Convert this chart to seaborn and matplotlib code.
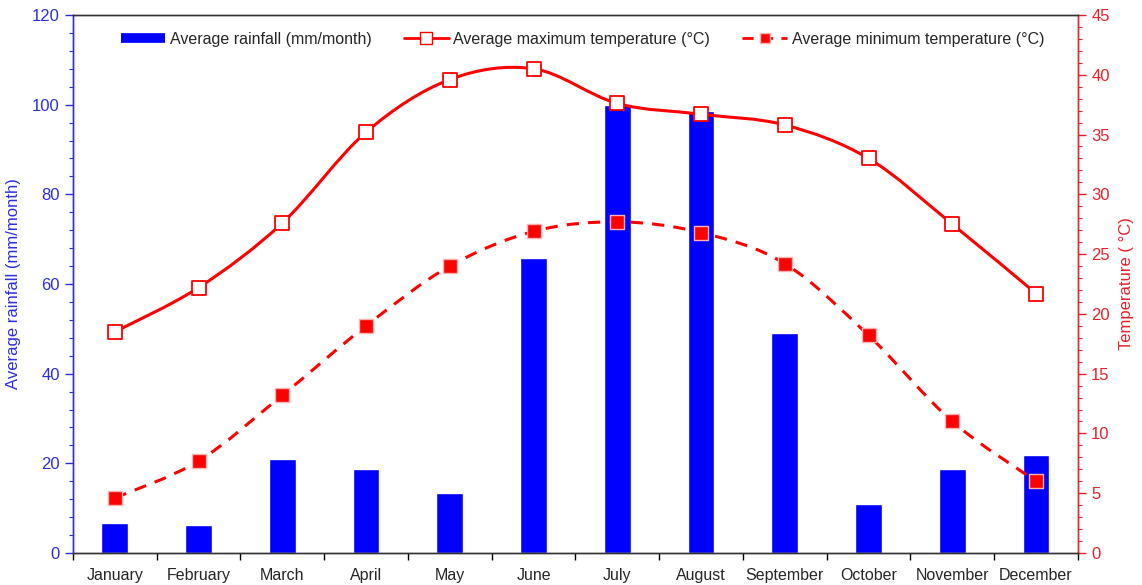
import numpy as np
import pandas as pd
import matplotlib
matplotlib.use("Agg")
import matplotlib.pyplot as plt
import seaborn as sns
from matplotlib.path import Path
from matplotlib.patches import PathPatch
from matplotlib.lines import Line2D
from matplotlib.ticker import MultipleLocator, FixedLocator

# ==========================================
# DATA
# ==========================================
months = ['January', 'February', 'March', 'April', 'May', 'June',
          'July', 'August', 'September', 'October', 'November', 'December']
rainfall = [6.7, 6.3, 21.0, 18.7, 13.4, 65.8, 100.0, 98.5, 49.0, 10.9, 18.7, 21.9]
temp_max = [18.5, 22.2, 27.6, 35.2, 39.6, 40.5, 37.6, 36.7, 35.8, 33.0, 27.5, 21.7]
temp_min = [4.6, 7.7, 13.2, 19.0, 24.0, 26.9, 27.7, 26.8, 24.2, 18.2, 11.0, 6.0]

BLUE = '#0000FF'
BLUE_TXT = '#2d2de0'
RED = '#FF0000'
RED_TXT = '#e8202a'


def smooth_path(xs, ys):
    # Catmull-Rom style cubic Bezier through the points (Excel-like smoothed line)
    pts = np.column_stack([xs, ys]).astype(float)
    n = len(pts)
    verts = [pts[0]]
    codes = [Path.MOVETO]
    for i in range(n - 1):
        p0 = pts[i - 1] if i > 0 else pts[i]
        p1 = pts[i]
        p2 = pts[i + 1]
        p3 = pts[i + 2] if i + 2 < n else pts[i + 1]
        c1 = p1 + (p2 - p0) / 6.0
        c2 = p2 - (p3 - p1) / 6.0
        verts += [c1, c2, p2]
        codes += [Path.CURVE4] * 3
    return Path(verts, codes)


sns.set_style("white")
plt.rcParams['font.family'] = ['Liberation Sans', 'DejaVu Sans']

df = pd.DataFrame({'Month': months, 'Rainfall': rainfall,
                   'Max': temp_max, 'Min': temp_min})
df['x'] = np.arange(len(months))

fig = plt.figure(figsize=(11.42, 5.85), dpi=100)
ax = fig.add_axes([0.0639, 0.0547, 0.8800, 0.9197])

# Bars: rainfall
sns.barplot(data=df, x='Month', y='Rainfall', color=BLUE, saturation=1,
            width=0.32, ax=ax, zorder=2)
ax.set_xlim(-0.5, 11.5)
ax.set_ylim(0, 120)
ax.set_xlabel('')
ax.set_ylabel('Average rainfall (mm/month)', color=BLUE_TXT, fontsize=12, labelpad=8)

# Temperature axis
ax2 = ax.twinx()
ax2.set_ylim(0, 45)
ax2.set_xlim(-0.5, 11.5)

ax2.add_patch(PathPatch(smooth_path(df['x'], df['Max']), facecolor='none',
                        edgecolor=RED, lw=2.2, zorder=3))
ax2.add_patch(PathPatch(smooth_path(df['x'], df['Min']), facecolor='none',
                        edgecolor=RED, lw=2.2, linestyle=(0, (4, 3)), zorder=3))
sns.scatterplot(x=df['x'], y=df['Max'], marker='s', s=110, color='white',
                edgecolor=RED, linewidth=1.3, ax=ax2, zorder=4)
sns.scatterplot(x=df['x'], y=df['Min'], marker='s', s=100, color=RED,
                edgecolor='#ffb0b0', linewidth=1.0, ax=ax2, zorder=4)
ax2.set_ylabel('Temperature ( °C)', color=RED_TXT, fontsize=12, labelpad=7)

# Ticks and spines
ax.xaxis.set_major_locator(FixedLocator(df['x']))
ax.set_xticklabels(months, fontsize=11.5)
ax.xaxis.set_minor_locator(FixedLocator(np.arange(-0.5, 12, 1.0)))
ax.tick_params(axis='x', which='major', length=0, pad=11)
ax.tick_params(axis='x', which='minor', length=5, width=1, color='black',
               direction='out', bottom=True)

ax.yaxis.set_major_locator(MultipleLocator(20))
ax.yaxis.set_minor_locator(MultipleLocator(4))
ax.tick_params(axis='y', which='both', direction='out', color=BLUE_TXT,
               labelcolor=BLUE_TXT, labelsize=12, left=True)
ax.tick_params(axis='y', which='major', length=6, width=1)
ax.tick_params(axis='y', which='minor', length=3, width=0.8)

ax2.yaxis.set_major_locator(MultipleLocator(5))
ax2.yaxis.set_minor_locator(MultipleLocator(1))
ax2.tick_params(axis='y', which='both', direction='out', color=RED_TXT,
                labelcolor=RED_TXT, labelsize=12, right=True)
ax2.tick_params(axis='y', which='major', length=6, width=1)
ax2.tick_params(axis='y', which='minor', length=3, width=0.8)

for a in (ax, ax2):
    a.spines['top'].set_color('#333333')
    a.spines['bottom'].set_color('#333333')
    a.spines['left'].set_color(BLUE_TXT)
    a.spines['right'].set_color(RED_TXT)
    for s in a.spines.values():
        s.set_linewidth(1.0)
ax.grid(False)
ax2.grid(False)

# Legend
handles = [
    Line2D([], [], color=BLUE, lw=7, solid_capstyle='butt'),
    Line2D([], [], color=RED, lw=2, marker='s', markersize=8,
           markerfacecolor='white', markeredgecolor=RED),
    Line2D([], [], color=RED, lw=2, linestyle=(0, (4, 3)), marker='s',
           markersize=7, markerfacecolor=RED, markeredgecolor='#ffb0b0'),
]
labels = ['Average rainfall (mm/month)', 'Average maximum temperature (°C)',
          'Average minimum temperature (°C)']
ax2.legend(handles, labels, loc='upper center', bbox_to_anchor=(0.507, 0.995),
           ncol=3, frameon=False, fontsize=11.5, handlelength=2.8,
           columnspacing=2.0, handletextpad=0.3)

fig.savefig('out.png', dpi=100)
